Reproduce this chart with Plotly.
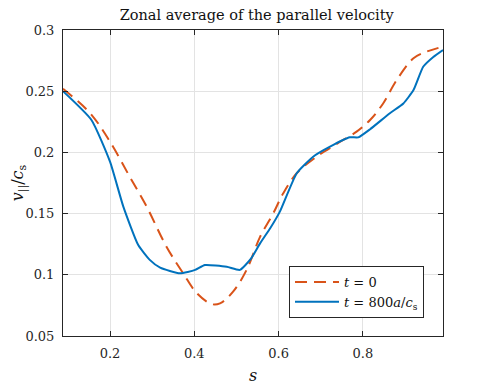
import plotly.graph_objects as go

# t = 0 (dashed)
s_t0 = [0.0885, 0.153, 0.2, 0.247, 0.287, 0.334, 0.374, 0.406, 0.441, 0.461, 0.492,
        0.524, 0.556, 0.587, 0.611, 0.643, 0.69, 0.738, 0.785, 0.817, 0.848, 0.88,
        0.92, 0.951, 0.99]
v_t0 = [0.252, 0.232, 0.2087, 0.18, 0.1557, 0.123, 0.101, 0.085, 0.0761, 0.0767, 0.0862,
        0.104, 0.131, 0.15, 0.1666, 0.183, 0.1965, 0.207, 0.217, 0.2265, 0.24, 0.259,
        0.2769, 0.2823, 0.2864]

# t = 800 a/c_s (solid)
s_t800 = [0.0885, 0.156, 0.2, 0.2316, 0.267, 0.295, 0.319, 0.366, 0.402, 0.425, 0.477,
          0.508, 0.534, 0.556, 0.58, 0.603, 0.643, 0.682, 0.722, 0.769, 0.789, 0.817,
          0.864, 0.896, 0.92, 0.943, 0.967, 0.99]
v_t800 = [0.25, 0.2265, 0.1924, 0.1557, 0.1243, 0.112, 0.1058, 0.1012, 0.104, 0.108, 0.1066,
          0.104, 0.113, 0.1257, 0.138, 0.1516, 0.183, 0.1965, 0.2047, 0.2123, 0.2123, 0.2189,
          0.232, 0.24, 0.251, 0.27, 0.278, 0.2837]

serif = "DejaVu Serif"
ink = "#262626"

fig = go.Figure()
fig.add_trace(go.Scatter(x=s_t0, y=v_t0, mode="lines", name="<i>t</i> = 0",
                         line=dict(color="#D95319", width=2, dash="12px,7px", shape="spline")))
fig.add_trace(go.Scatter(x=s_t800, y=v_t800, mode="lines",
                         name="<i>t</i> = 800<i>a</i>/<i>c</i><sub>s</sub>",
                         line=dict(color="#0072BD", width=2, shape="spline", smoothing=0.5)))

axis_common = dict(showline=True, linecolor=ink, linewidth=1, mirror="ticks",
                   ticks="inside", ticklen=5, tickcolor=ink, ticklabelstandoff=5,
                   automargin=False,
                   showgrid=True, gridcolor="#e3e3e3", gridwidth=1, zeroline=False,
                   tickfont=dict(family=serif, size=13, color=ink))

# the page body has an 8px margin, so the figure is a little smaller than the window
fig.update_layout(
    width=483, height=378,
    margin=dict(l=55, r=48, t=22, b=50),
    paper_bgcolor="white", plot_bgcolor="white",
    font=dict(family=serif, color=ink),
    title=dict(text="Zonal average of the parallel velocity", x=0.515, xanchor="center",
               y=0.982, yanchor="middle", font=dict(family=serif, size=14.5, color="#111111")),
    xaxis=dict(range=[0.0885, 0.99], tickvals=[0.2, 0.4, 0.6, 0.8],
               title=dict(text="<i>s</i>", font=dict(family=serif, size=16, color="#111111"),
                          standoff=10), **axis_common),
    yaxis=dict(range=[0.05, 0.3], dtick=0.05, tick0=0.05,
               title=dict(text="<i>v</i><sub>||</sub>/<i>c</i><sub>s</sub>",
                          font=dict(family=serif, size=16, color="#111111"), standoff=12),
               **axis_common),
    legend=dict(x=0.95, xanchor="right", y=0.059, yanchor="bottom",
                bgcolor="white", bordercolor=ink, borderwidth=1,
                font=dict(family=serif, size=13, color="#111111"),
                tracegroupgap=0, itemwidth=44),
    showlegend=True,
)

fig.write_html("out.html")
